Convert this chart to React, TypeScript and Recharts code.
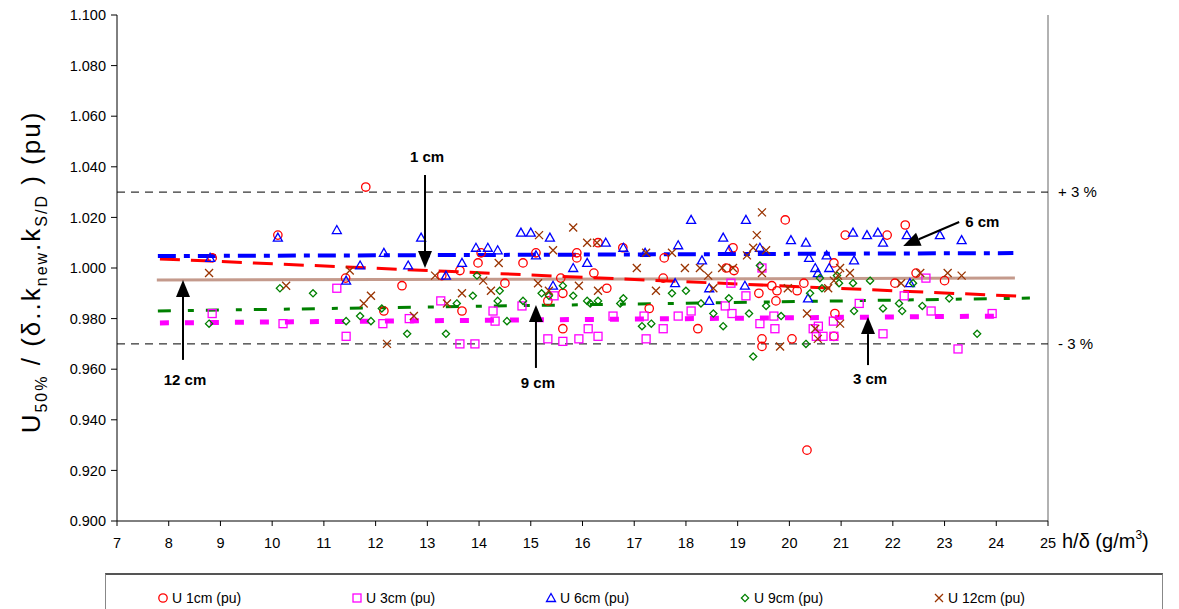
import React from 'react';
import { ComposedChart, Scatter, Line, XAxis, YAxis, ReferenceLine, ReferenceDot } from 'recharts';

const X_TICKS = [7, 8, 9, 10, 11, 12, 13, 14, 15, 16, 17, 18, 19, 20, 21, 22, 23, 24, 25];
const Y_TICKS = [0.9, 0.92, 0.94, 0.96, 0.98, 1.0, 1.02, 1.04, 1.06, 1.08, 1.1];

// measured points [h/delta, normalised U50%]
const u1cm = [
  [8.84, 1.004], [10.11, 1.013], [11.42, 0.996], [11.81, 1.032], [12.16, 0.983], [12.51, 0.993],
  [13.28, 0.997], [13.63, 0.999], [13.67, 0.983], [13.98, 1.002], [14.04, 1.006], [14.5, 0.994],
  [14.85, 1.002], [15.1, 1.006], [15.33, 0.987], [15.58, 0.996], [15.62, 0.99], [15.62, 0.976],
  [15.89, 1.006], [15.89, 1.004], [16.22, 0.998], [16.3, 1.01], [16.47, 0.992], [16.78, 1.008],
  [17.29, 0.984], [17.56, 0.996], [17.58, 1.004], [18.23, 0.976], [18.78, 1.0], [18.91, 1.008],
  [18.93, 0.999], [19.41, 0.99], [19.47, 0.972], [19.47, 0.969], [19.66, 0.993], [19.74, 0.987],
  [19.76, 0.991], [19.92, 1.019], [20.05, 0.972], [20.15, 0.991], [20.28, 0.994], [20.34, 0.928],
  [20.86, 1.002], [20.88, 0.982], [20.86, 0.973], [21.08, 1.013], [21.89, 1.013], [22.04, 0.994],
  [22.24, 1.017], [22.45, 0.998], [23.0, 0.995],
];
const u3cm = [
  [8.84, 0.982], [10.21, 0.978], [11.25, 0.992], [11.43, 0.973], [12.14, 0.978], [12.65, 0.98],
  [13.26, 0.987], [13.63, 0.97], [13.92, 0.97], [14.27, 0.983], [14.31, 0.979], [14.83, 0.985],
  [15.33, 0.972], [15.45, 0.989], [15.62, 0.971], [15.93, 0.972], [16.11, 0.976], [16.3, 0.973],
  [16.59, 0.981], [17.19, 0.981], [17.23, 0.972], [17.56, 0.976], [17.85, 0.981], [18.1, 0.983],
  [18.76, 0.985], [18.87, 0.994], [18.89, 0.982], [19.16, 0.989], [19.43, 0.978], [19.47, 1.0],
  [19.7, 0.981], [19.72, 0.976], [20.46, 0.976], [20.52, 0.973], [20.56, 0.977], [20.65, 0.973],
  [20.85, 0.979], [20.86, 0.973], [21.35, 0.986], [21.81, 0.974], [22.22, 0.989], [22.64, 0.996],
  [22.74, 0.983], [23.26, 0.968], [23.92, 0.982],
];
const u6cm = [
  [8.8, 1.004], [10.11, 1.012], [11.25, 1.015], [11.43, 0.995], [11.7, 1.001], [12.16, 1.006],
  [12.63, 1.001], [12.88, 1.012], [13.36, 0.997], [13.67, 1.002], [13.94, 1.008], [14.17, 1.008],
  [14.36, 1.007], [14.81, 1.014], [15.0, 1.014], [15.1, 1.005], [15.37, 1.012], [15.43, 0.993],
  [15.82, 1.0], [16.09, 1.002], [16.45, 1.01], [16.79, 1.008], [17.21, 1.006], [17.79, 0.994],
  [17.85, 1.009], [18.1, 1.019], [18.31, 1.003], [18.45, 0.992], [18.45, 0.987], [18.72, 1.012],
  [18.83, 1.007], [19.14, 0.993], [19.16, 1.019], [19.43, 1.008], [20.03, 1.011], [20.32, 1.01],
  [20.36, 0.988], [20.38, 1.004], [20.5, 1.0], [20.55, 0.998], [20.72, 1.005], [20.77, 1.0],
  [21.23, 1.014], [21.25, 1.003], [21.5, 1.013], [21.71, 1.014], [21.81, 1.01], [22.27, 1.013],
  [22.33, 0.994], [22.91, 1.013], [23.33, 1.011],
];
const u9cm = [
  [8.78, 0.978], [10.15, 0.992], [10.79, 0.99], [11.43, 0.979], [11.7, 0.981], [11.91, 0.979],
  [12.12, 0.984], [12.61, 0.974], [13.36, 0.974], [13.57, 0.986], [13.88, 0.989], [13.96, 0.997],
  [14.36, 0.987], [14.4, 0.991], [14.54, 0.979], [14.85, 0.987], [15.21, 0.99], [15.35, 0.989],
  [15.62, 0.993], [15.82, 0.989], [16.09, 0.987], [16.15, 0.986], [16.3, 0.987], [16.73, 0.986],
  [16.79, 0.988], [17.15, 0.977], [17.33, 0.978], [17.73, 0.99], [18.0, 0.991], [18.29, 0.986],
  [18.53, 0.982], [18.72, 0.977], [18.83, 0.988], [19.22, 0.982], [19.3, 0.965], [19.43, 1.001],
  [19.55, 0.985], [19.84, 0.981], [20.32, 0.97], [20.4, 0.99], [20.59, 0.996], [20.63, 0.992],
  [20.92, 0.997], [20.96, 0.994], [21.23, 0.994], [21.25, 0.983], [21.56, 0.995], [21.81, 0.984],
  [22.12, 0.986], [22.18, 0.983], [22.39, 0.994], [22.57, 0.985], [23.09, 0.988], [23.63, 0.974],
];
const u12cm = [
  [8.78, 0.998], [10.27, 0.993], [11.5, 0.999], [11.77, 0.986], [11.91, 0.989], [12.22, 0.97],
  [12.74, 0.981], [13.15, 0.997], [13.38, 0.986], [13.67, 0.99], [14.08, 0.995], [14.23, 0.991],
  [14.38, 1.002], [15.14, 0.994], [15.16, 1.013], [15.35, 0.991], [15.43, 1.007], [15.82, 1.016],
  [15.93, 0.993], [16.09, 1.01], [16.28, 1.01], [16.3, 0.991], [17.05, 1.0], [17.23, 1.006],
  [17.42, 0.991], [17.73, 1.006], [17.98, 1.0], [18.27, 1.0], [18.43, 0.997], [18.53, 0.992],
  [18.7, 1.0], [18.91, 1.0], [19.18, 1.005], [19.3, 1.008], [19.37, 1.013], [19.47, 1.022],
  [19.47, 0.998], [19.55, 1.007], [19.82, 0.969], [19.97, 0.992], [20.34, 0.982], [20.5, 0.976],
  [20.55, 0.972], [20.75, 0.992], [20.86, 0.995], [20.94, 0.997], [20.98, 1.0], [20.98, 0.978],
  [21.17, 0.998], [22.16, 0.994], [22.53, 0.998], [23.06, 0.998], [23.33, 0.997],
];

// fitted trend lines, start and end
const trend1cm = [[7.83, 1.0036], [24.5, 0.9888]];
const trend3cm = [[7.83, 0.9783], [24.13, 0.981]];
const trend6cm = [[7.79, 1.0047], [24.33, 1.0059]];
const trend9cm = [[7.79, 0.983], [24.65, 0.9881]];
const trend12cm = [[7.77, 0.9953], [24.36, 0.996]];

const LIMITS = [
  { y: 1.03, label: '+ 3 %' },
  { y: 0.97, label: '- 3 %' },
];

const NOTES = [
  { label: '1 cm', x: 12.955, y: 1.0, dir: 'down', len: 93, ty: -106 },
  { label: '12 cm', x: 8.276, y: 0.9953, dir: 'up', len: 80, ty: 105 },
  { label: '9 cm', x: 15.1, y: 0.9854, dir: 'up', len: 63, ty: 83 },
  { label: '3 cm', x: 21.52, y: 0.9806, dir: 'up', len: 48, ty: 67 },
  { label: '6 cm', x: 22.2, y: 1.0087, dir: 'diag', len: 0, ty: 0 },
];

const toPts = (arr: number[][]) => arr.map(([x, y]) => ({ x, y }));

const FONT = 'Liberation Sans, Arial, sans-serif';
const RED = '#ff0000';
const MAGENTA = '#ff00ff';
const BLUE = '#0000ff';
const GREEN = '#008000';
const BROWN = '#993300';
const TAN = '#c49a8c';

const markers: Record<string, (c: string) => (p: any) => React.ReactElement> = {
  circle: (c) => (p) => <circle cx={p.cx} cy={p.cy} r={4.2} fill="none" stroke={c} strokeWidth={1.3} />,
  square: (c) => (p) => <rect x={p.cx - 4} y={p.cy - 4} width={8} height={8} fill="none" stroke={c} strokeWidth={1.3} />,
  triangle: (c) => (p) => (
    <path d={`M${p.cx},${p.cy - 4.5}L${p.cx + 4.5},${p.cy + 3.5}L${p.cx - 4.5},${p.cy + 3.5}Z`} fill="none" stroke={c} strokeWidth={1.3} />
  ),
  diamond: (c) => (p) => (
    <path d={`M${p.cx},${p.cy - 3.6}L${p.cx + 3.6},${p.cy}L${p.cx},${p.cy + 3.6}L${p.cx - 3.6},${p.cy}Z`} fill="none" stroke={c} strokeWidth={1.3} />
  ),
  cross: (c) => (p) => (
    <path d={`M${p.cx - 4},${p.cy - 4}L${p.cx + 4},${p.cy + 4}M${p.cx + 4},${p.cy - 4}L${p.cx - 4},${p.cy + 4}`} fill="none" stroke={c} strokeWidth={1.3} />
  ),
};

const SERIES = [
  { name: 'U 1cm (pu)', data: u1cm, color: RED, mark: 'circle' },
  { name: 'U 3cm (pu)', data: u3cm, color: MAGENTA, mark: 'square' },
  { name: 'U 6cm (pu)', data: u6cm, color: BLUE, mark: 'triangle' },
  { name: 'U 9cm (pu)', data: u9cm, color: GREEN, mark: 'diamond' },
  { name: 'U 12cm (pu)', data: u12cm, color: BROWN, mark: 'cross' },
];

const TRENDS = [
  { data: trend12cm, color: TAN, width: 3, dash: undefined },
  { data: trend9cm, color: GREEN, width: 3, dash: '13 17 6 12' },
  { data: trend3cm, color: MAGENTA, width: 5, dash: '9 16' },
  { data: trend1cm, color: RED, width: 3, dash: '20 11' },
  { data: trend6cm, color: BLUE, width: 4, dash: '18 8 6 8' },
];

function Arrow(props: any) {
  const { cx, cy, note } = props;
  const head = 17;
  const hw = 7;
  const txt = { fontFamily: FONT, fontSize: 15, fontWeight: 700, fill: '#000' };
  if (note.dir === 'diag') {
    const tx = cx + 56;
    const ty = cy - 24;
    const L = Math.hypot(tx - cx, ty - cy);
    const ux = (tx - cx) / L;
    const uy = (ty - cy) / L;
    const bx = cx + ux * head;
    const by = cy + uy * head;
    return (
      <g>
        <line x1={bx} y1={by} x2={tx} y2={ty} stroke="#000" strokeWidth={2} />
        <path d={`M${cx},${cy}L${bx - uy * hw},${by + ux * hw}L${bx + uy * hw},${by - ux * hw}Z`} fill="#000" />
        <text x={tx + 6} y={ty + 5} {...txt}>{note.label}</text>
      </g>
    );
  }
  const s = note.dir === 'down' ? -1 : 1;
  return (
    <g>
      <line x1={cx} y1={cy + s * head} x2={cx} y2={cy + s * note.len} stroke="#000" strokeWidth={2} />
      <path d={`M${cx},${cy}L${cx - hw},${cy + s * head}L${cx + hw},${cy + s * head}Z`} fill="#000" />
      <text x={cx + 2} y={cy + note.ty} textAnchor="middle" {...txt}>{note.label}</text>
    </g>
  );
}

function YLabel(props: any) {
  const { viewBox } = props;
  const cx = viewBox.x - 17;
  const cy = viewBox.y + viewBox.height / 2 + 4;
  const sub = 7;
  return (
    <text
      transform={`translate(${cx},${cy}) rotate(-90)`}
      textAnchor="middle"
      fontFamily={FONT}
      fontSize={26}
      letterSpacing={2}
      fill="#000"
    >
      U<tspan fontSize={16} dy={sub}>50%</tspan>
      <tspan dy={-sub}> / (δ..k</tspan>
      <tspan fontSize={16} dy={sub}>new</tspan>
      <tspan dy={-sub}>.k</tspan>
      <tspan fontSize={16} dy={sub}>S/D</tspan>
      <tspan dy={-sub}> ) (pu)</tspan>
    </text>
  );
}

function XLabel(props: any) {
  const { viewBox } = props;
  return (
    <text x={viewBox.x + viewBox.width + 14} y={viewBox.y + 27} fontFamily={FONT} fontSize={20} fill="#000">
      h/δ (g/m<tspan fontSize={12} dy={-9}>3</tspan>
      <tspan dy={9}>)</tspan>
    </text>
  );
}

function LegendMark({ mark, color }: { mark: string; color: string }) {
  return (
    <svg width={12} height={12} style={{ marginRight: 3 }}>
      {markers[mark](color)({ cx: 6, cy: 6 })}
    </svg>
  );
}

export default function App() {
  const tick = { fontFamily: FONT, fontSize: 14.5, fill: '#000' };
  return (
    <div style={{ position: 'absolute', left: 0, top: 0, width: 1179, height: 609, background: '#fff', overflow: 'hidden' }}>
      <ComposedChart width={1179} height={609} margin={{ top: 15, right: 131, bottom: 58, left: 57 }}>
        <XAxis
          type="number"
          dataKey="x"
          domain={[7, 25]}
          ticks={X_TICKS}
          allowDataOverflow
          height={30}
          tickSize={5}
          tickMargin={12}
          tick={tick}
          axisLine={{ stroke: '#000' }}
          tickLine={{ stroke: '#000' }}
          label={<XLabel />}
        />
        <YAxis
          type="number"
          dataKey="y"
          domain={[0.9, 1.1]}
          ticks={Y_TICKS}
          allowDataOverflow
          width={60}
          tickSize={6}
          tickMargin={5}
          tick={tick}
          tickFormatter={(v: number) => v.toFixed(3)}
          axisLine={{ stroke: '#000' }}
          tickLine={{ stroke: '#000' }}
          label={<YLabel />}
        />
        <ReferenceLine x={25} stroke="#999" strokeWidth={1.5} />
        {LIMITS.map((l) => (
          <ReferenceLine
            key={l.label}
            y={l.y}
            stroke="#000"
            strokeDasharray="8 6"
            label={{ value: l.label, position: 'right', offset: 10, fill: '#000', fontFamily: FONT, fontSize: 15 }}
          />
        ))}
        {SERIES.map((s) => (
          <Scatter key={s.name} name={s.name} data={toPts(s.data)} dataKey="y" shape={markers[s.mark](s.color)} isAnimationActive={false} />
        ))}
        {TRENDS.map((t, i) => (
          <Line
            key={i}
            data={toPts(t.data)}
            dataKey="y"
            type="linear"
            stroke={t.color}
            strokeWidth={t.width}
            strokeDasharray={t.dash}
            dot={false}
            activeDot={false}
            legendType="none"
            isAnimationActive={false}
          />
        ))}
        {NOTES.map((n) => (
          <ReferenceDot key={n.label} x={n.x} y={n.y} r={0} shape={(p: any) => <Arrow {...p} note={n} />} />
        ))}
      </ComposedChart>
      <div
        style={{
          position: 'absolute',
          left: 105,
          top: 573,
          width: 1058,
          height: 50,
          borderTop: '2px solid #555',
          borderLeft: '1px solid #888',
          borderRight: '1px solid #888',
          boxSizing: 'border-box',
          display: 'flex',
          alignItems: 'flex-start',
          paddingLeft: 51,
          paddingTop: 15,
          fontFamily: FONT,
          fontSize: 14,
        }}
      >
        {SERIES.map((s) => (
          <div key={s.name} style={{ width: 194, display: 'flex', alignItems: 'center' }}>
            <LegendMark mark={s.mark} color={s.color} />
            <span>{s.name}</span>
          </div>
        ))}
      </div>
    </div>
  );
}
